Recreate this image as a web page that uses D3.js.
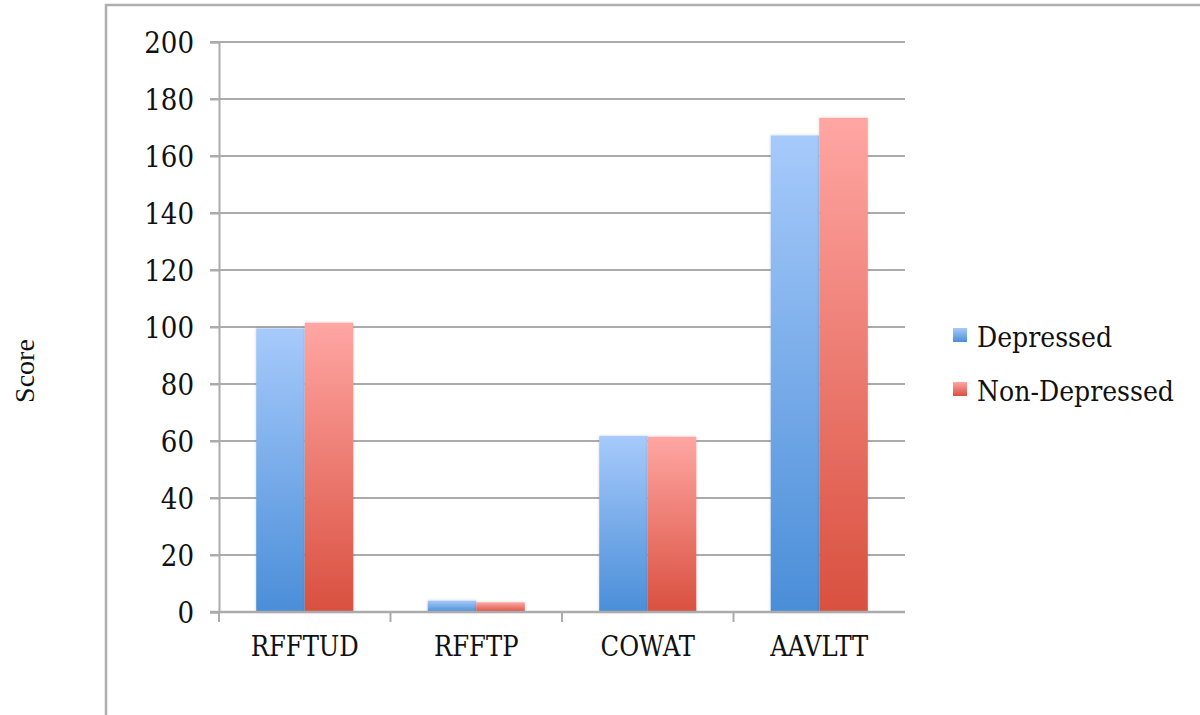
<!DOCTYPE html>
<html><head><meta charset="utf-8">
<script src="https://cdn.jsdelivr.net/npm/d3@7"></script>
<style>
html,body{margin:0;padding:0;background:#fff;}
svg{display:block;}
.lab{font-family:"DejaVu Serif Condensed","DejaVu Serif",serif;font-stretch:condensed;fill:#111;}
</style></head>
<body>
<svg id="chart" width="1200" height="715"></svg>
<script>
const categories = ["RFFTUD", "RFFTP", "COWAT", "AAVLTT"];
const seriesNames = ["Depressed", "Non-Depressed"];
const depressed = [99.5, 4.0, 61.8, 167.2];
const nonDepressed = [101.5, 3.4, 61.5, 173.4];
const yTicks = [0, 20, 40, 60, 80, 100, 120, 140, 160, 180, 200];
const seriesValues = [depressed, nonDepressed];

(function () {
const svg = d3.select("#chart");
const pL = 219, pR = 905, pT = 42, pB = 612;

// frame
svg.append("rect").attr("x", 106).attr("y", 5).attr("width", 1200).attr("height", 800)
  .attr("fill", "none").attr("stroke", "#aeaeae").attr("stroke-width", 2.5);

const defs = svg.append("defs");
const grads = [["#a7cafb", "#4a8ed8"], ["#ffa6a3", "#d9503f"]];
grads.forEach((g, i) => {
  const lg = defs.append("linearGradient").attr("id", "g" + i).attr("x1", 0).attr("y1", 0).attr("x2", 0).attr("y2", 1);
  lg.append("stop").attr("offset", "0%").attr("stop-color", g[0]);
  lg.append("stop").attr("offset", "100%").attr("stop-color", g[1]);
});
const f = defs.append("filter").attr("id", "sh").attr("x", "-20%").attr("y", "-20%").attr("width", "140%").attr("height", "140%");
f.append("feDropShadow").attr("dx", 0).attr("dy", 0).attr("stdDeviation", 1.5).attr("flood-color", "#000").attr("flood-opacity", 0.18);

const y = d3.scaleLinear().domain([0, 200]).range([pB, pT]);
const x = d3.scaleBand().domain(categories).range([pL, pR]).paddingInner(0).paddingOuter(0);
const groupFrac = 0.566;
const x1 = d3.scaleBand().domain(seriesNames).range([0, x.bandwidth() * groupFrac]);
const groupOff = x.bandwidth() * (1 - groupFrac) / 2;

// grid lines
svg.append("g").selectAll("line").data(yTicks.filter(d => d > 0)).join("line")
  .attr("x1", pL - 9).attr("x2", pR).attr("y1", d => y(d)).attr("y2", d => y(d))
  .attr("stroke", "#ababab").attr("stroke-width", 2);

// y axis
const yAxis = svg.append("g").attr("transform", `translate(${pL},0)`)
  .call(d3.axisLeft(y).tickValues(yTicks).tickSize(9).tickPadding(16));
yAxis.select(".domain").attr("stroke", "#ababab").attr("stroke-width", 2);
yAxis.selectAll(".tick line").attr("stroke", "#ababab").attr("stroke-width", 2);
yAxis.selectAll("text").attr("class", "lab").attr("font-size", 29).attr("dy", "0.36em");

// bars
const gBars = svg.append("g");
categories.forEach((c, ci) => {
  seriesNames.forEach((s, si) => {
    const v = seriesValues[si][ci];
    gBars.append("rect")
      .attr("x", x(c) + groupOff + x1(s))
      .attr("y", y(v))
      .attr("width", x1.bandwidth())
      .attr("height", y(0) - y(v))
      .attr("fill", `url(#g${si})`)
      .attr("filter", "url(#sh)");
  });
});

// x axis
const xAxis = svg.append("g").attr("transform", `translate(0,${pB})`)
  .call(d3.axisBottom(x).tickSize(0).tickPadding(25));
xAxis.select(".domain").remove();
xAxis.append("line").attr("x1", pL - 9).attr("x2", pR).attr("stroke", "#ababab").attr("stroke-width", 2.5);
const bounds = categories.map(c => x(c));
xAxis.selectAll(".bt").data(bounds).join("line").attr("class", "bt")
  .attr("x1", d => d).attr("x2", d => d).attr("y1", 0).attr("y2", 10)
  .attr("stroke", "#ababab").attr("stroke-width", 2);
xAxis.selectAll(".tick text").attr("class", "lab").attr("font-size", 27).attr("dy", "0.72em");

// y title
svg.append("text").attr("transform", "translate(34,371) rotate(-90)")
  .attr("text-anchor", "middle").attr("font-family", "Liberation Serif").attr("font-size", 28)
  .attr("fill", "#111").text("Score");

// legend
const leg = svg.append("g");
seriesNames.forEach((s, i) => {
  const yy = 347 + i * 54;
  leg.append("rect").attr("x", 953).attr("y", yy - 19).attr("width", 14).attr("height", 14)
    .attr("fill", `url(#g${i})`);
  leg.append("text").attr("class", "lab").attr("x", 977).attr("y", yy).attr("font-size", 28).text(s);
});
})();
</script>
</body></html>
